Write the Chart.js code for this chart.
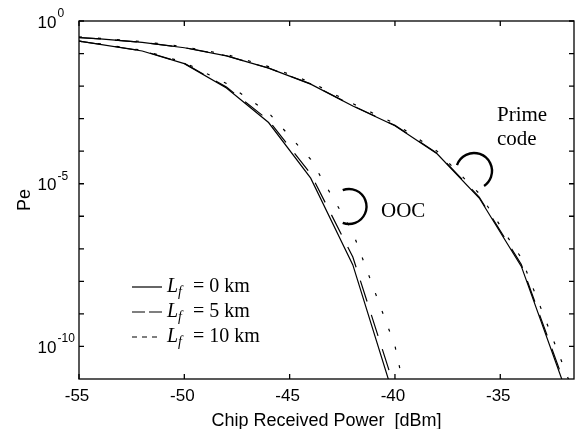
<!DOCTYPE html>
<html>
<head>
<meta charset="utf-8">
<script src="https://cdn.jsdelivr.net/npm/chart.js@4.4.0/dist/chart.umd.min.js"></script>
<style>
  body { margin: 0; background: #fff; }
  #wrap { width: 580px; height: 429px; }
</style>
</head>
<body>
<div id="wrap"><canvas id="chart" width="580" height="429"></canvas></div>
<script>
// 横轴: 芯片接收功率 (dBm)
const powerPrime = [-55, -54, -52, -50, -48, -46, -44, -42, -40, -38, -36, -34, -32, -30];
const powerOoc = [-55, -54, -52, -50, -48, -46, -44, -42, -40, -38];

// Prime code 误码率
const primeL0 = [0.309, 0.282, 0.219, 0.151, 0.0851, 0.0355, 0.0115, 2.45e-3, 6.03e-4, 8.3e-5, 3.63e-6, 2.88e-8, 7.1e-12, 1.6e-15];
const primeL5 = [0.311, 0.284, 0.221, 0.152, 0.0858, 0.0359, 0.0117, 2.50e-3, 6.2e-4, 8.7e-5, 3.9e-6, 3.3e-8, 8.9e-12, 2.5e-15];
const primeL10 = [0.324, 0.295, 0.234, 0.162, 0.0933, 0.0398, 0.0132, 2.88e-3, 7.1e-4, 1.0e-4, 5.0e-6, 5.2e-8, 2.5e-11, 1e-14];

// OOC 误码率
const oocL0 = [0.240, 0.191, 0.120, 0.049, 8.7e-3, 7.6e-4, 1.48e-5, 3.2e-8, 2.2e-12, 1e-16];
const oocL5 = [0.242, 0.193, 0.122, 0.050, 9.3e-3, 8.9e-4, 2.0e-5, 5.6e-8, 5e-12, 1e-16];
const oocL10 = [0.240, 0.200, 0.126, 0.0537, 0.012, 1.51e-3, 5.6e-5, 3.2e-7, 1.05e-10, 1e-16];

// 刻度
const xTicks = [-55, -50, -45, -40, -35];
const yTickExps = [0, -1, -2, -3, -4, -5, -6, -7, -8, -9, -10];
const yLabelExps = [0, -5, -10];
const legendLabels = ['0 km', '5 km', '10 km'];

const dashes = [[], [22, 14], [3, 16]];
const legendDashes = [[], [13, 4], [5, 5]];

function pts(xs, ys) {
    return xs.map((v, i) => ({ x: v, y: ys[i] }));
}

function line(data, k) {
    return {
        data: data,
        borderColor: '#000',
        borderWidth: 1.2,
        borderDash: dashes[k],
        pointRadius: 0,
        tension: 0,
        fill: false
    };
}

// 坐标框, 刻度, 文字
const decor = {
    id: 'decor',
    afterDraw(chart) {
        const ctx = chart.ctx;
        const a = chart.chartArea;
        const x = chart.scales.x;
        const y = chart.scales.y;
        ctx.save();
        ctx.strokeStyle = '#000';
        ctx.fillStyle = '#000';
        ctx.lineWidth = 1.3;
        ctx.setLineDash([]);
        ctx.strokeRect(a.left, a.top, a.right - a.left, a.bottom - a.top);

        ctx.beginPath();
        xTicks.forEach(v => {
            const px = x.getPixelForValue(v);
            ctx.moveTo(px, a.bottom); ctx.lineTo(px, a.bottom - 5);
            ctx.moveTo(px, a.top); ctx.lineTo(px, a.top + 5);
        });
        yTickExps.forEach(e => {
            const py = y.getPixelForValue(Math.pow(10, e));
            ctx.moveTo(a.left, py); ctx.lineTo(a.left + 5, py);
            ctx.moveTo(a.right, py); ctx.lineTo(a.right - 5, py);
        });
        ctx.stroke();

        ctx.font = '17px "Liberation Sans", Arial, sans-serif';
        ctx.textAlign = 'center';
        ctx.textBaseline = 'alphabetic';
        xTicks.forEach(v => {
            ctx.fillText(String(v), x.getPixelForValue(v) - 2, a.bottom + 22);
        });

        yLabelExps.forEach(e => {
            const py = y.getPixelForValue(Math.pow(10, e));
            ctx.font = '17px "Liberation Sans", Arial, sans-serif';
            ctx.textAlign = 'right';
            ctx.fillText('10', 56.5, py + 6.5);
            ctx.font = '12px "Liberation Sans", Arial, sans-serif';
            ctx.textAlign = 'left';
            ctx.fillText(String(e), 57.5, py - 4);
        });

        ctx.font = '18px "Liberation Sans", Arial, sans-serif';
        ctx.textAlign = 'center';
        ctx.fillText('Chip Received Power  [dBm]', (a.left + a.right) / 2, 426);
        ctx.save();
        ctx.translate(29.5, (a.top + a.bottom) / 2);
        ctx.rotate(-Math.PI / 2);
        ctx.fillText('Pe', 0, 0);
        ctx.restore();

        // 图例
        legendLabels.forEach((lab, i) => {
            const base = 292 + i * 25;
            ctx.lineWidth = 1.2;
            ctx.setLineDash(legendDashes[i]);
            ctx.beginPath();
            ctx.moveTo(132, base - 5);
            ctx.lineTo(162, base - 5);
            ctx.stroke();
            ctx.setLineDash([]);
            ctx.textAlign = 'left';
            ctx.font = 'italic 20px "Liberation Serif", "Times New Roman", serif';
            ctx.fillText('L', 167, base);
            ctx.font = 'italic 14px "Liberation Serif", "Times New Roman", serif';
            ctx.fillText('f', 178, base + 4);
            ctx.font = '20px "Liberation Serif", "Times New Roman", serif';
            ctx.fillText('= ' + lab, 193, base);
        });

        // 标注
        ctx.font = '21px "Liberation Serif", "Times New Roman", serif';
        ctx.fillText('Prime', 497, 120.5);
        ctx.fillText('code', 497, 145);
        ctx.fillText('OOC', 381, 216.5);
        ctx.lineWidth = 2.4;
        ctx.beginPath();
        ctx.arc(474, 171, 18, -161 * Math.PI / 180, 56 * Math.PI / 180);
        ctx.stroke();
        ctx.beginPath();
        ctx.arc(349, 206.5, 17.5, -111 * Math.PI / 180, 111 * Math.PI / 180);
        ctx.stroke();
        ctx.restore();
    }
};

new Chart(document.getElementById('chart'), {
    type: 'line',
    data: {
        datasets: [
            line(pts(powerPrime, primeL0), 0),
            line(pts(powerPrime, primeL5), 1),
            line(pts(powerPrime, primeL10), 2),
            line(pts(powerOoc, oocL0), 0),
            line(pts(powerOoc, oocL5), 1),
            line(pts(powerOoc, oocL10), 2)
        ]
    },
    options: {
        responsive: false,
        animation: false,
        layout: { padding: { left: 79, right: 6, top: 21, bottom: 50 } },
        plugins: { legend: { display: false }, tooltip: { enabled: false } },
        scales: {
            x: { type: 'linear', min: -55, max: -31.5, display: false },
            y: { type: 'logarithmic', min: 1e-11, max: 1, display: false }
        }
    },
    plugins: [decor]
});
</script>
</body>
</html>
